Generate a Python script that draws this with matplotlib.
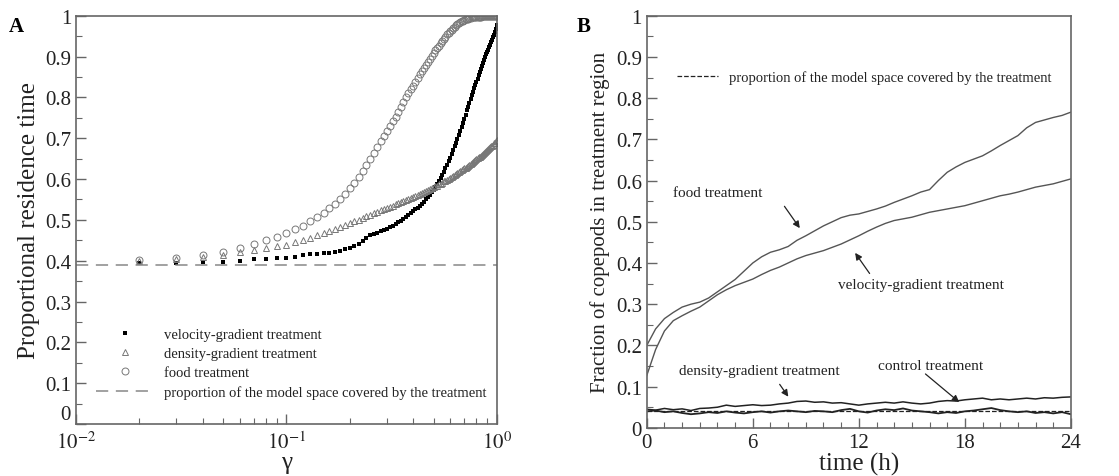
import numpy as np
import matplotlib
matplotlib.use("Agg")
import matplotlib.pyplot as plt
from matplotlib.ticker import FuncFormatter, MultipleLocator, LogLocator

plt.rcParams['font.family'] = ['Liberation Serif', 'DejaVu Serif']
plt.rcParams['mathtext.fontset'] = 'stix'

# ---- panel A data: proportional residence time vs gamma ----
gamma = np.round(np.arange(2, 101) / 100, 2)

velocity_a = [0.394, 0.395, 0.396, 0.397, 0.400, 0.403, 0.405, 0.407, 0.407, 0.410,
              0.415, 0.416, 0.417, 0.418, 0.419, 0.421, 0.424, 0.428, 0.432, 0.437,
              0.442, 0.448, 0.455, 0.462, 0.466, 0.469, 0.472, 0.475, 0.478, 0.482,
              0.486, 0.490, 0.494, 0.498, 0.503, 0.508, 0.513, 0.518, 0.522, 0.526,
              0.530, 0.535, 0.539, 0.544, 0.550, 0.556, 0.562, 0.568, 0.574, 0.581,
              0.588, 0.595, 0.602, 0.609, 0.617, 0.626, 0.635, 0.644, 0.652, 0.661,
              0.670, 0.680, 0.689, 0.698, 0.708, 0.718, 0.728, 0.738, 0.748, 0.758,
              0.768, 0.777, 0.786, 0.796, 0.805, 0.813, 0.822, 0.830, 0.838, 0.846,
              0.854, 0.862, 0.870, 0.877, 0.884, 0.891, 0.898, 0.905, 0.911, 0.917,
              0.923, 0.929, 0.935, 0.941, 0.947, 0.953, 0.960, 0.968, 0.976]

density_a = [0.398, 0.403, 0.408, 0.414, 0.421, 0.427, 0.431, 0.435, 0.439, 0.445,
             0.451, 0.456, 0.462, 0.467, 0.473, 0.478, 0.483, 0.488, 0.492, 0.496,
             0.500, 0.505, 0.509, 0.513, 0.516, 0.520, 0.523, 0.526, 0.529, 0.532,
             0.535, 0.538, 0.541, 0.544, 0.547, 0.549, 0.552, 0.554, 0.557, 0.559,
             0.562, 0.564, 0.566, 0.569, 0.571, 0.573, 0.575, 0.577, 0.580, 0.582,
             0.584, 0.587, 0.589, 0.591, 0.594, 0.596, 0.598, 0.601, 0.603, 0.605,
             0.608, 0.610, 0.612, 0.615, 0.617, 0.619, 0.621, 0.624, 0.626, 0.628,
             0.630, 0.633, 0.635, 0.637, 0.639, 0.642, 0.644, 0.646, 0.648, 0.651,
             0.653, 0.655, 0.657, 0.660, 0.662, 0.664, 0.666, 0.669, 0.671, 0.673,
             0.675, 0.678, 0.680, 0.682, 0.684, 0.687, 0.689, 0.692, 0.695]

food_a = [0.401, 0.407, 0.414, 0.422, 0.431, 0.441, 0.451, 0.458, 0.467, 0.477,
          0.486, 0.496, 0.506, 0.517, 0.528, 0.540, 0.552, 0.564, 0.577, 0.591,
          0.606, 0.620, 0.635, 0.650, 0.664, 0.678, 0.692, 0.705, 0.717, 0.729,
          0.741, 0.753, 0.765, 0.777, 0.789, 0.800, 0.810, 0.820, 0.829, 0.838,
          0.847, 0.856, 0.864, 0.872, 0.880, 0.887, 0.894, 0.901, 0.908, 0.915,
          0.921, 0.927, 0.933, 0.939, 0.944, 0.949, 0.954, 0.958, 0.962, 0.966,
          0.970, 0.973, 0.976, 0.979, 0.982, 0.984, 0.986, 0.988, 0.990, 0.991,
          0.992, 0.993, 0.994, 0.995, 0.996, 0.996, 0.997, 0.997, 0.998, 0.998,
          0.998, 0.998, 0.998, 0.999, 0.999, 0.999, 0.999, 0.999, 0.999, 0.999,
          0.999, 0.999, 0.999, 0.999, 0.999, 0.999, 0.999, 0.999, 0.999]

coverage = 0.39

# ---- panel B data: fraction of copepods in treatment region vs time ----
time_h = np.arange(0, 24.5, 0.5)

food_b = [0.200, 0.240, 0.265, 0.280, 0.293, 0.300, 0.305, 0.315, 0.330, 0.345,
          0.360, 0.380, 0.400, 0.415, 0.426, 0.432, 0.440, 0.455, 0.466, 0.478,
          0.490, 0.500, 0.510, 0.516, 0.519, 0.525, 0.531, 0.538, 0.547, 0.555,
          0.563, 0.572, 0.578, 0.600, 0.620, 0.633, 0.644, 0.652, 0.660, 0.672,
          0.685, 0.697, 0.709, 0.728, 0.741, 0.747, 0.753, 0.758, 0.766]

velocity_b = [0.127, 0.190, 0.235, 0.260, 0.272, 0.283, 0.293, 0.308, 0.323, 0.335,
              0.345, 0.353, 0.361, 0.372, 0.382, 0.390, 0.400, 0.410, 0.418, 0.424,
              0.430, 0.438, 0.446, 0.456, 0.466, 0.477, 0.487, 0.496, 0.503, 0.507,
              0.511, 0.517, 0.523, 0.527, 0.531, 0.535, 0.539, 0.545, 0.551, 0.557,
              0.563, 0.567, 0.572, 0.578, 0.584, 0.588, 0.592, 0.598, 0.604]

density_b = [0.045, 0.043, 0.047, 0.044, 0.046, 0.042, 0.047, 0.048, 0.050, 0.055,
             0.052, 0.054, 0.056, 0.054, 0.055, 0.058, 0.060, 0.064, 0.065, 0.062,
             0.063, 0.060, 0.061, 0.058, 0.055, 0.058, 0.060, 0.062, 0.060, 0.063,
             0.060, 0.058, 0.060, 0.064, 0.066, 0.065, 0.068, 0.070, 0.072, 0.068,
             0.070, 0.068, 0.070, 0.072, 0.070, 0.073, 0.072, 0.074, 0.075]

control_b = [0.040, 0.042, 0.038, 0.040, 0.036, 0.033, 0.035, 0.038, 0.036, 0.040,
             0.037, 0.035, 0.038, 0.040, 0.037, 0.040, 0.042, 0.040, 0.038, 0.041,
             0.040, 0.038, 0.043, 0.046, 0.040, 0.037, 0.042, 0.045, 0.043, 0.047,
             0.042, 0.040, 0.038, 0.035, 0.038, 0.036, 0.040, 0.042, 0.045, 0.048,
             0.043, 0.040, 0.038, 0.040, 0.036, 0.038, 0.035, 0.038, 0.033]

coverage_b = 0.04

frame_col = '#666666'
text_col = '#222222'

fig = plt.figure(figsize=(11.19, 4.77), dpi=100)
ax_a = fig.add_axes([0.068, 0.109, 0.376, 0.856])
ax_b = fig.add_axes([0.578, 0.101, 0.379, 0.864])


def style_axes(ax):
    for sp in ax.spines.values():
        sp.set_color(frame_col)
        sp.set_linewidth(1.2)
    ax.tick_params(which='both', direction='in', color=frame_col,
                   labelsize=15, labelcolor=text_col, top=False, right=False)
    ax.tick_params(which='major', length=7, width=1)
    ax.tick_params(which='minor', length=4, width=0.8)


def y_label_a(v, p):
    # the 0 label of panel A is placed by hand below, to clear the 10^-2 label
    if abs(v) < 1e-9:
        return ''
    return '%g' % round(v, 2)


# ---- panel A ----
ax_a.plot(gamma, velocity_a, 's', color='black', ms=3.5, mew=0,
          label='velocity-gradient treatment')
ax_a.plot(gamma, density_a, '^', mfc='none', mec='#777777', ms=4.5, mew=0.7,
          label='density-gradient treatment')
ax_a.plot(gamma, food_a, 'o', mfc='none', mec='#777777', ms=5, mew=0.7,
          label='food treatment')
ax_a.axhline(coverage, color='#888888', lw=1.1, dashes=(8, 5),
             label='proportion of the model space covered by the treatment')
ax_a.set_xscale('log')
ax_a.set_xlim(0.01, 1)
ax_a.set_ylim(0, 1)
ax_a.yaxis.set_major_locator(MultipleLocator(0.1))
ax_a.yaxis.set_minor_locator(MultipleLocator(0.05))
ax_a.xaxis.set_minor_locator(LogLocator(base=10, subs=np.arange(2, 10)))
ax_a.yaxis.set_major_formatter(FuncFormatter(y_label_a))
ax_a.set_xticks([0.01, 0.1, 1])
ax_a.set_xticklabels([r'$10^{-2}$', r'$10^{-1}$', r'$10^{0}$'])
style_axes(ax_a)
ax_a.tick_params(axis='x', pad=5)
ax_a.text(-0.012, 0.0, '0', transform=ax_a.transAxes, fontsize=15,
          color=text_col, ha='right', va='bottom')
ax_a.set_xlabel('γ', fontsize=18, color=text_col, labelpad=-1)
ax_a.set_ylabel('Proportional residence time', fontsize=18, color=text_col, labelpad=4)
leg = ax_a.legend(loc='lower left', bbox_to_anchor=(0.015, 0.03), frameon=False,
                  fontsize=10.5, handlelength=4.0, handletextpad=0.7,
                  labelspacing=0.4, labelcolor=text_col)
ax_a.text(-0.16, 1.0, 'A', transform=ax_a.transAxes, fontsize=15,
          fontweight='bold', va='top', ha='left')

# ---- panel B ----
ax_b.axhline(coverage_b, color='#222222', lw=0.9, ls='--', zorder=1,
             label='proportion of the model space covered by the treatment')
ax_b.plot(time_h, food_b, color='#555555', lw=1, zorder=2)
ax_b.plot(time_h, velocity_b, color='#555555', lw=1, zorder=2)
ax_b.plot(time_h, density_b, color='#222222', lw=1.1, zorder=2)
ax_b.plot(time_h, control_b, color='#222222', lw=1.3, zorder=2)
ax_b.set_xlim(0, 24)
ax_b.set_ylim(0, 1)
ax_b.xaxis.set_major_locator(MultipleLocator(6))
ax_b.xaxis.set_minor_locator(MultipleLocator(1))
ax_b.yaxis.set_major_locator(MultipleLocator(0.1))
ax_b.yaxis.set_minor_locator(MultipleLocator(0.05))
ax_b.yaxis.set_major_formatter(FuncFormatter(lambda v, p: '%g' % round(v, 2)))
style_axes(ax_b)
ax_b.set_xlabel('time (h)', fontsize=18, color=text_col, labelpad=0)
ax_b.set_ylabel('Fraction of copepods in treatment region', fontsize=15,
                color=text_col, labelpad=4)
ax_b.legend(loc='upper left', bbox_to_anchor=(0.04, 0.9), frameon=False,
            fontsize=10.5, handlelength=2.8, labelcolor=text_col)

arrow_kw = dict(arrowstyle='-|>', color='#222222', lw=0.9, mutation_scale=10)
ax_b.annotate('food treatment', xy=(8.75, 0.479), xytext=(4.0, 0.57),
              fontsize=11, ha='center', va='center', color=text_col)
ax_b.annotate('', xy=(8.75, 0.479), xytext=(7.7, 0.543), arrowprops=arrow_kw)
ax_b.annotate('velocity-gradient treatment', xy=(11.7, 0.43), xytext=(15.5, 0.347),
              fontsize=11, ha='center', va='center', color=text_col)
ax_b.annotate('', xy=(11.7, 0.43), xytext=(12.7, 0.369), arrowprops=arrow_kw)
ax_b.annotate('density-gradient treatment', xy=(8.1, 0.07), xytext=(6.35, 0.139),
              fontsize=11, ha='center', va='center', color=text_col)
ax_b.annotate('', xy=(8.1, 0.07), xytext=(7.43, 0.111), arrowprops=arrow_kw)
ax_b.annotate('control treatment', xy=(17.8, 0.058), xytext=(16.05, 0.151),
              fontsize=11, ha='center', va='center', color=text_col)
ax_b.annotate('', xy=(17.8, 0.058), xytext=(15.65, 0.135), arrowprops=arrow_kw)
ax_b.text(-0.165, 1.0, 'B', transform=ax_b.transAxes, fontsize=15,
          fontweight='bold', va='top', ha='left')

fig.savefig('out.png', dpi=100)
